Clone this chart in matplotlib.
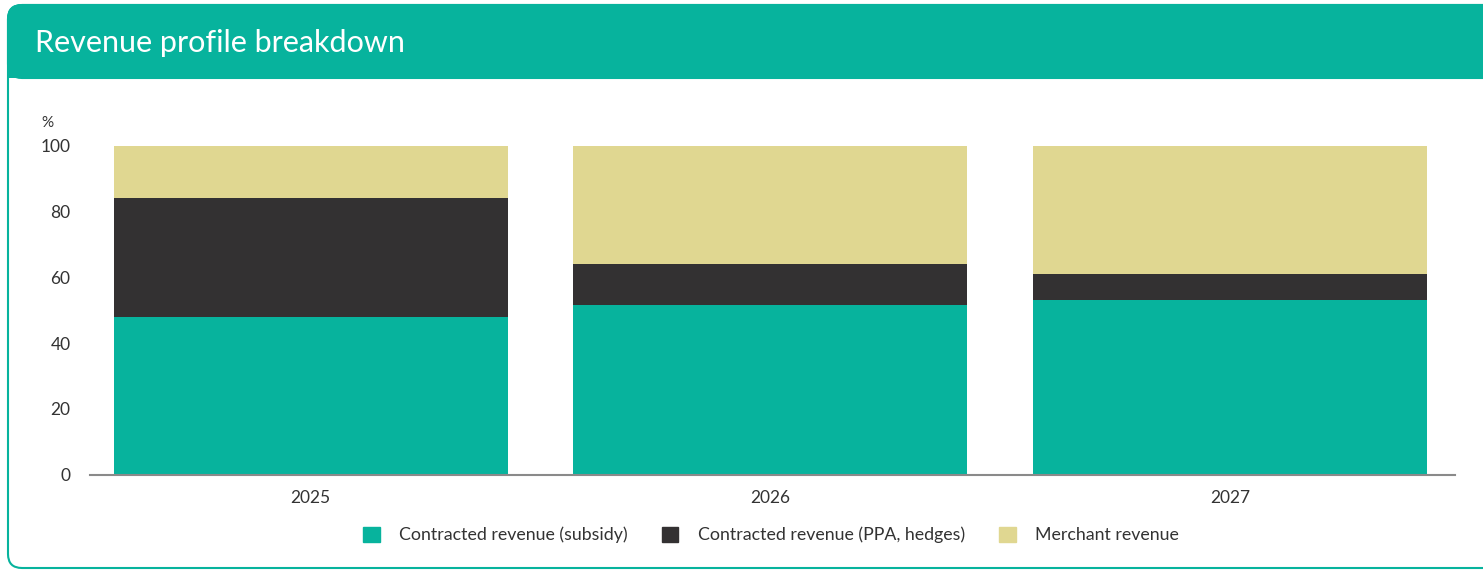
import matplotlib
matplotlib.use('Agg')
import matplotlib.pyplot as plt
import numpy as np
from matplotlib.patches import FancyBboxPatch, Rectangle, Patch
from matplotlib.transforms import IdentityTransform

years = ['2025', '2026', '2027']
subsidy = [48, 51.5, 53]
ppa_hedges = [36, 12.5, 8]
merchant = [16, 36, 39]
series_labels = ['Contracted revenue (subsidy)', 'Contracted revenue (PPA, hedges)', 'Merchant revenue']
y_ticks = [0, 20, 40, 60, 80, 100]

TEAL = '#07B39D'
DARK = '#333132'
SAND = '#E0D791'
TEXT = '#333333'

plt.rcParams['font.family'] = ['Lato', 'DejaVu Sans']
plt.rcParams['font.size'] = 12

W, H = 1483, 572
fig = plt.figure(figsize=(W / 100, H / 100), dpi=100)

# card outline and header band (pixel coords, origin bottom-left)
card = FancyBboxPatch((8, 4), 1520, 563, boxstyle='round,pad=0,rounding_size=14',
                      transform=IdentityTransform(), facecolor='white',
                      edgecolor=TEAL, linewidth=1.5, zorder=0)
fig.patches.append(card)
header = FancyBboxPatch((8, 494), 1520, 73, boxstyle='round,pad=0,rounding_size=14',
                        transform=IdentityTransform(), facecolor=TEAL,
                        edgecolor=TEAL, linewidth=1.5, zorder=1)
fig.patches.append(header)
fig.patches.append(Rectangle((8, 494), 1520, 30, transform=IdentityTransform(),
                             facecolor=TEAL, edgecolor='none', zorder=1))
fig.text(35 / W, 1 - 43 / H, 'Revenue profile breakdown', color='white',
         fontsize=22, va='center', ha='left', zorder=3)

ax = fig.add_axes([90 / W, 97.3 / H, (1455 - 90) / W, (474.7 - 145.7) / H])
ax.set_zorder(2)
x = np.arange(len(years))
width = 0.857
bottom2 = np.array(subsidy)
bottom3 = bottom2 + np.array(ppa_hedges)
ax.bar(x, subsidy, width, color=TEAL, label=series_labels[0])
ax.bar(x, ppa_hedges, width, bottom=bottom2, color=DARK, label=series_labels[1])
ax.bar(x, merchant, width, bottom=bottom3, color=SAND, label=series_labels[2])

ax.set_xlim(-0.48, 2.49)
ax.set_ylim(0, 100)
ax.set_yticks(y_ticks)
ax.set_xticks(x)
ax.set_xticklabels(years)
ax.tick_params(axis='both', length=0, colors=TEXT, labelsize=12.5)
ax.tick_params(axis='y', pad=14)
ax.tick_params(axis='x', pad=11)
for s in ['top', 'right', 'left']:
    ax.spines[s].set_visible(False)
ax.spines['bottom'].set_color('#8a8a8a')
ax.spines['bottom'].set_linewidth(1.5)
ax.patch.set_alpha(0)

fig.text(41 / W, 1 - 123 / H, '%', color=TEXT, fontsize=11, ha='left', va='center')

handles = [Patch(color=c) for c in [TEAL, DARK, SAND]]
fig.legend(handles, series_labels, loc='center', bbox_to_anchor=(771 / W, 1 - 535 / H),
           ncol=3, frameon=False, fontsize=12.8, handlelength=0.95, handleheight=0.95,
           handletextpad=1.1, columnspacing=1.9, labelcolor=TEXT)

fig.savefig('out.png', dpi=100)
